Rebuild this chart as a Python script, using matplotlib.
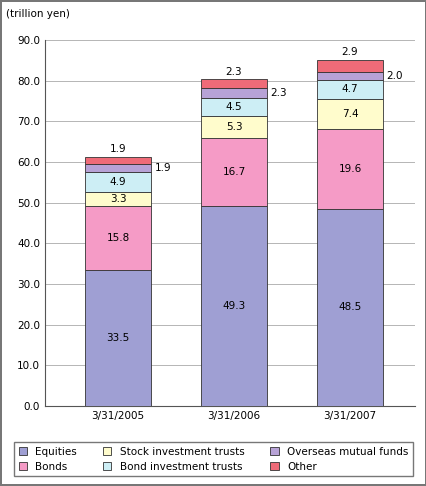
import matplotlib.pyplot as plt
import numpy as np

dates = ["3/31/2005", "3/31/2006", "3/31/2007"]
equities = [33.5, 49.3, 48.5]
bonds = [15.8, 16.7, 19.6]
stock_trusts = [3.3, 5.3, 7.4]
bond_trusts = [4.9, 4.5, 4.7]
overseas = [1.9, 2.3, 2.0]
other = [1.9, 2.3, 2.9]

names = ["Equities", "Bonds", "Stock investment trusts",
         "Bond investment trusts", "Overseas mutual funds", "Other"]
series = [equities, bonds, stock_trusts, bond_trusts, overseas, other]
colors = ["#9f9fd3", "#f59bc6", "#fffccc", "#cdeef5", "#b7a2d6", "#ef6b78"]

fig = plt.figure(figsize=(4.27, 4.86), dpi=100)
fig.patch.set_edgecolor("#777777")
fig.patch.set_linewidth(1.5)
ax = fig.add_axes([45/427, 80/486, 370/427, 366/486])

x = np.arange(len(dates))
w = 0.57
bottom = np.zeros(3)
for k, (vals, c, n) in enumerate(zip(series, colors, names)):
    vals = np.array(vals)
    ax.bar(x, vals, w, bottom=bottom, color=c, edgecolor="#333333", linewidth=0.6, label=n, zorder=3)
    for i in range(3):
        if k == 5:
            ax.text(x[i], bottom[i] + vals[i] + 0.6, f"{vals[i]:.1f}", ha="center", va="bottom", fontsize=7.5)
        elif k == 4:
            ax.text(x[i] + w/2 + 0.03, bottom[i] + vals[i]/2, f"{vals[i]:.1f}", ha="left", va="center", fontsize=7.5)
        else:
            ax.text(x[i], bottom[i] + vals[i]/2, f"{vals[i]:.1f}", ha="center", va="center", fontsize=7.5)
    bottom += vals

ax.set_xlim(-0.63, 2.56)
ax.set_ylim(0, 90)
ax.set_yticks(np.arange(0, 91, 10))
ax.set_yticklabels([f"{v:.1f}" for v in range(0, 91, 10)], fontsize=7.5)
ax.set_xticks(x)
ax.set_xticklabels(dates, fontsize=7.5)
ax.tick_params(length=0)
ax.yaxis.grid(True, color="#aaaaaa", linewidth=0.6, zorder=0)
for s in ["top", "right"]:
    ax.spines[s].set_visible(False)
ax.spines["left"].set_color("#555555")
ax.spines["bottom"].set_color("#555555")
fig.text(6/427, 1 - 14/486, "(trillion yen)", fontsize=7.5, va="center")

fig.legend(loc="lower center", bbox_to_anchor=(0.5, 0.01), ncol=3, fontsize=7.5,
           frameon=True, edgecolor="#555555", fancybox=False, handlelength=0.8,
           handleheight=0.8, columnspacing=2.5)

fig.savefig("out.png", dpi=100)
